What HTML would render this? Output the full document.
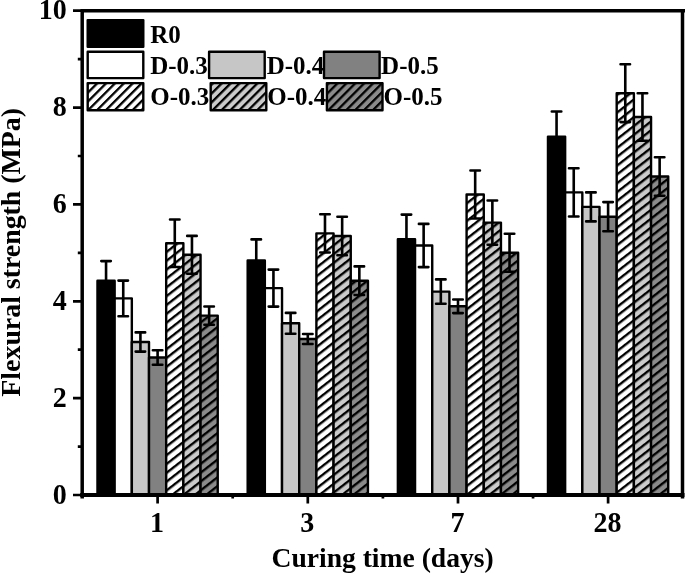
<!DOCTYPE html><html><head><meta charset="utf-8"><style>html,body{margin:0;padding:0;background:#fff;overflow:hidden}svg{display:block;filter:grayscale(1)}text{font-family:"Liberation Serif",serif;font-weight:bold;fill:#000}</style></head><body>
<svg width="685" height="574" viewBox="0 0 685 574">
<defs>
<pattern id="hb" patternUnits="userSpaceOnUse" width="40" height="6.9664" patternTransform="rotate(-37.9542) translate(0 0.3770)"><rect x="-5" y="0" width="50" height="2.4" fill="#000"/></pattern>
<pattern id="hl" patternUnits="userSpaceOnUse" width="40" height="6.2933" patternTransform="rotate(-45) translate(0 0.6178)"><rect x="-5" y="0" width="50" height="2.3" fill="#000"/></pattern>
</defs>
<rect x="97.47" y="280.8" width="17.18" height="214.2" fill="#000"/>
<rect x="97.47" y="280.8" width="17.18" height="214.2" fill="none" stroke="#000" stroke-width="2.4" stroke-linejoin="round"/>
<rect x="114.65" y="298.4" width="17.18" height="196.6" fill="#fff"/>
<rect x="114.65" y="298.4" width="17.18" height="196.6" fill="none" stroke="#000" stroke-width="2.4" stroke-linejoin="round"/>
<rect x="131.83" y="342" width="17.18" height="153" fill="#c6c6c6"/>
<rect x="131.83" y="342" width="17.18" height="153" fill="none" stroke="#000" stroke-width="2.4" stroke-linejoin="round"/>
<rect x="149.01" y="357.5" width="17.18" height="137.5" fill="#818181"/>
<rect x="149.01" y="357.5" width="17.18" height="137.5" fill="none" stroke="#000" stroke-width="2.4" stroke-linejoin="round"/>
<rect x="166.19" y="243.3" width="17.18" height="251.7" fill="#fff"/>
<rect x="166.19" y="243.3" width="17.18" height="251.7" fill="url(#hb)"/>
<rect x="166.19" y="243.3" width="17.18" height="251.7" fill="none" stroke="#000" stroke-width="2.4" stroke-linejoin="round"/>
<rect x="183.37" y="254.8" width="17.18" height="240.2" fill="#cbcbcb"/>
<rect x="183.37" y="254.8" width="17.18" height="240.2" fill="url(#hb)"/>
<rect x="183.37" y="254.8" width="17.18" height="240.2" fill="none" stroke="#000" stroke-width="2.4" stroke-linejoin="round"/>
<rect x="200.55" y="315.6" width="17.18" height="179.4" fill="#8b8b8b"/>
<rect x="200.55" y="315.6" width="17.18" height="179.4" fill="url(#hb)"/>
<rect x="200.55" y="315.6" width="17.18" height="179.4" fill="none" stroke="#000" stroke-width="2.4" stroke-linejoin="round"/>
<rect x="247.67" y="260.5" width="17.18" height="234.5" fill="#000"/>
<rect x="247.67" y="260.5" width="17.18" height="234.5" fill="none" stroke="#000" stroke-width="2.4" stroke-linejoin="round"/>
<rect x="264.85" y="288.1" width="17.18" height="206.9" fill="#fff"/>
<rect x="264.85" y="288.1" width="17.18" height="206.9" fill="none" stroke="#000" stroke-width="2.4" stroke-linejoin="round"/>
<rect x="282.03" y="323.3" width="17.18" height="171.7" fill="#c6c6c6"/>
<rect x="282.03" y="323.3" width="17.18" height="171.7" fill="none" stroke="#000" stroke-width="2.4" stroke-linejoin="round"/>
<rect x="299.21" y="339" width="17.18" height="156" fill="#818181"/>
<rect x="299.21" y="339" width="17.18" height="156" fill="none" stroke="#000" stroke-width="2.4" stroke-linejoin="round"/>
<rect x="316.39" y="233.4" width="17.18" height="261.6" fill="#fff"/>
<rect x="316.39" y="233.4" width="17.18" height="261.6" fill="url(#hb)"/>
<rect x="316.39" y="233.4" width="17.18" height="261.6" fill="none" stroke="#000" stroke-width="2.4" stroke-linejoin="round"/>
<rect x="333.57" y="236" width="17.18" height="259" fill="#cbcbcb"/>
<rect x="333.57" y="236" width="17.18" height="259" fill="url(#hb)"/>
<rect x="333.57" y="236" width="17.18" height="259" fill="none" stroke="#000" stroke-width="2.4" stroke-linejoin="round"/>
<rect x="350.75" y="280.7" width="17.18" height="214.3" fill="#8b8b8b"/>
<rect x="350.75" y="280.7" width="17.18" height="214.3" fill="url(#hb)"/>
<rect x="350.75" y="280.7" width="17.18" height="214.3" fill="none" stroke="#000" stroke-width="2.4" stroke-linejoin="round"/>
<rect x="397.87" y="239.2" width="17.18" height="255.8" fill="#000"/>
<rect x="397.87" y="239.2" width="17.18" height="255.8" fill="none" stroke="#000" stroke-width="2.4" stroke-linejoin="round"/>
<rect x="415.05" y="245.5" width="17.18" height="249.5" fill="#fff"/>
<rect x="415.05" y="245.5" width="17.18" height="249.5" fill="none" stroke="#000" stroke-width="2.4" stroke-linejoin="round"/>
<rect x="432.23" y="291.6" width="17.18" height="203.4" fill="#c6c6c6"/>
<rect x="432.23" y="291.6" width="17.18" height="203.4" fill="none" stroke="#000" stroke-width="2.4" stroke-linejoin="round"/>
<rect x="449.41" y="306.3" width="17.18" height="188.7" fill="#818181"/>
<rect x="449.41" y="306.3" width="17.18" height="188.7" fill="none" stroke="#000" stroke-width="2.4" stroke-linejoin="round"/>
<rect x="466.59" y="194.5" width="17.18" height="300.5" fill="#fff"/>
<rect x="466.59" y="194.5" width="17.18" height="300.5" fill="url(#hb)"/>
<rect x="466.59" y="194.5" width="17.18" height="300.5" fill="none" stroke="#000" stroke-width="2.4" stroke-linejoin="round"/>
<rect x="483.77" y="222.6" width="17.18" height="272.4" fill="#cbcbcb"/>
<rect x="483.77" y="222.6" width="17.18" height="272.4" fill="url(#hb)"/>
<rect x="483.77" y="222.6" width="17.18" height="272.4" fill="none" stroke="#000" stroke-width="2.4" stroke-linejoin="round"/>
<rect x="500.95" y="252.8" width="17.18" height="242.2" fill="#8b8b8b"/>
<rect x="500.95" y="252.8" width="17.18" height="242.2" fill="url(#hb)"/>
<rect x="500.95" y="252.8" width="17.18" height="242.2" fill="none" stroke="#000" stroke-width="2.4" stroke-linejoin="round"/>
<rect x="547.97" y="136.6" width="17.18" height="358.4" fill="#000"/>
<rect x="547.97" y="136.6" width="17.18" height="358.4" fill="none" stroke="#000" stroke-width="2.4" stroke-linejoin="round"/>
<rect x="565.15" y="192.4" width="17.18" height="302.6" fill="#fff"/>
<rect x="565.15" y="192.4" width="17.18" height="302.6" fill="none" stroke="#000" stroke-width="2.4" stroke-linejoin="round"/>
<rect x="582.33" y="206.9" width="17.18" height="288.1" fill="#c6c6c6"/>
<rect x="582.33" y="206.9" width="17.18" height="288.1" fill="none" stroke="#000" stroke-width="2.4" stroke-linejoin="round"/>
<rect x="599.51" y="216.7" width="17.18" height="278.3" fill="#818181"/>
<rect x="599.51" y="216.7" width="17.18" height="278.3" fill="none" stroke="#000" stroke-width="2.4" stroke-linejoin="round"/>
<rect x="616.69" y="93.2" width="17.18" height="401.8" fill="#fff"/>
<rect x="616.69" y="93.2" width="17.18" height="401.8" fill="url(#hb)"/>
<rect x="616.69" y="93.2" width="17.18" height="401.8" fill="none" stroke="#000" stroke-width="2.4" stroke-linejoin="round"/>
<rect x="633.87" y="117" width="17.18" height="378" fill="#cbcbcb"/>
<rect x="633.87" y="117" width="17.18" height="378" fill="url(#hb)"/>
<rect x="633.87" y="117" width="17.18" height="378" fill="none" stroke="#000" stroke-width="2.4" stroke-linejoin="round"/>
<rect x="651.05" y="176.5" width="17.18" height="318.5" fill="#8b8b8b"/>
<rect x="651.05" y="176.5" width="17.18" height="318.5" fill="url(#hb)"/>
<rect x="651.05" y="176.5" width="17.18" height="318.5" fill="none" stroke="#000" stroke-width="2.4" stroke-linejoin="round"/>
<path d="M106.06 261.1V300.5M101.31 261.1H110.81M101.31 300.5H110.81" stroke="#000" stroke-width="2.6" stroke-linecap="round" fill="none"/>
<path d="M123.24 280.6V316.2M118.49 280.6H127.99M118.49 316.2H127.99" stroke="#000" stroke-width="2.6" stroke-linecap="round" fill="none"/>
<path d="M140.42 332.4V351.6M135.67 332.4H145.17M135.67 351.6H145.17" stroke="#000" stroke-width="2.6" stroke-linecap="round" fill="none"/>
<path d="M157.6 350.3V364.7M152.85 350.3H162.35M152.85 364.7H162.35" stroke="#000" stroke-width="2.6" stroke-linecap="round" fill="none"/>
<path d="M174.78 219.55V267.05M170.03 219.55H179.53M170.03 267.05H179.53" stroke="#000" stroke-width="2.6" stroke-linecap="round" fill="none"/>
<path d="M191.96 235.9V273.7M187.21 235.9H196.71M187.21 273.7H196.71" stroke="#000" stroke-width="2.6" stroke-linecap="round" fill="none"/>
<path d="M209.14 306.5V324.7M204.39 306.5H213.89M204.39 324.7H213.89" stroke="#000" stroke-width="2.6" stroke-linecap="round" fill="none"/>
<path d="M256.26 239.4V281.6M251.51 239.4H261.01M251.51 281.6H261.01" stroke="#000" stroke-width="2.6" stroke-linecap="round" fill="none"/>
<path d="M273.44 269.6V306.6M268.69 269.6H278.19M268.69 306.6H278.19" stroke="#000" stroke-width="2.6" stroke-linecap="round" fill="none"/>
<path d="M290.62 312.9V333.7M285.87 312.9H295.37M285.87 333.7H295.37" stroke="#000" stroke-width="2.6" stroke-linecap="round" fill="none"/>
<path d="M307.8 334V344M303.05 334H312.55M303.05 344H312.55" stroke="#000" stroke-width="2.6" stroke-linecap="round" fill="none"/>
<path d="M324.98 214.3V252.5M320.23 214.3H329.73M320.23 252.5H329.73" stroke="#000" stroke-width="2.6" stroke-linecap="round" fill="none"/>
<path d="M342.16 216.7V255.3M337.41 216.7H346.91M337.41 255.3H346.91" stroke="#000" stroke-width="2.6" stroke-linecap="round" fill="none"/>
<path d="M359.34 266.4V295M354.59 266.4H364.09M354.59 295H364.09" stroke="#000" stroke-width="2.6" stroke-linecap="round" fill="none"/>
<path d="M406.46 214.6V263.8M401.71 214.6H411.21M401.71 263.8H411.21" stroke="#000" stroke-width="2.6" stroke-linecap="round" fill="none"/>
<path d="M423.64 223.9V267.1M418.89 223.9H428.39M418.89 267.1H428.39" stroke="#000" stroke-width="2.6" stroke-linecap="round" fill="none"/>
<path d="M440.82 279.4V303.8M436.07 279.4H445.57M436.07 303.8H445.57" stroke="#000" stroke-width="2.6" stroke-linecap="round" fill="none"/>
<path d="M458 299.5V313.1M453.25 299.5H462.75M453.25 313.1H462.75" stroke="#000" stroke-width="2.6" stroke-linecap="round" fill="none"/>
<path d="M475.18 170.5V218.5M470.43 170.5H479.93M470.43 218.5H479.93" stroke="#000" stroke-width="2.6" stroke-linecap="round" fill="none"/>
<path d="M492.36 200.5V244.7M487.61 200.5H497.11M487.61 244.7H497.11" stroke="#000" stroke-width="2.6" stroke-linecap="round" fill="none"/>
<path d="M509.54 233.8V271.8M504.79 233.8H514.29M504.79 271.8H514.29" stroke="#000" stroke-width="2.6" stroke-linecap="round" fill="none"/>
<path d="M556.56 111.5V161.7M551.81 111.5H561.31M551.81 161.7H561.31" stroke="#000" stroke-width="2.6" stroke-linecap="round" fill="none"/>
<path d="M573.74 168.3V216.5M568.99 168.3H578.49M568.99 216.5H578.49" stroke="#000" stroke-width="2.6" stroke-linecap="round" fill="none"/>
<path d="M590.92 192.4V221.4M586.17 192.4H595.67M586.17 221.4H595.67" stroke="#000" stroke-width="2.6" stroke-linecap="round" fill="none"/>
<path d="M608.1 202.1V231.3M603.35 202.1H612.85M603.35 231.3H612.85" stroke="#000" stroke-width="2.6" stroke-linecap="round" fill="none"/>
<path d="M625.28 64.3V122.1M620.53 64.3H630.03M620.53 122.1H630.03" stroke="#000" stroke-width="2.6" stroke-linecap="round" fill="none"/>
<path d="M642.46 93.2V140.8M637.71 93.2H647.21M637.71 140.8H647.21" stroke="#000" stroke-width="2.6" stroke-linecap="round" fill="none"/>
<path d="M659.64 157.2V195.8M654.89 157.2H664.39M654.89 195.8H664.39" stroke="#000" stroke-width="2.6" stroke-linecap="round" fill="none"/>
<path d="M80.45 10.7H685M682.5 10.7V498.5M82.2 10.7V498.5" stroke="#000" stroke-width="3.5" fill="none"/>
<path d="M82.2 495.1H682.5" stroke="#000" stroke-width="4.0" stroke-linecap="square" fill="none"/>
<path d="M82.2 495H73M82.2 446.57H77.8M82.2 398.14H73M82.2 349.71H77.8M82.2 301.28H73M82.2 252.85H77.8M82.2 204.42H73M82.2 155.99H77.8M82.2 107.56H73M82.2 59.13H77.8M82.2 10.7H73" stroke="#000" stroke-width="2.7" fill="none"/>
<path d="M157.6 495V503.5M307.8 495V503.5M458 495V503.5M608.1 495V503.5M232.7 495V498.5M382.9 495V498.5M533.05 495V498.5" stroke="#000" stroke-width="2.7" fill="none"/>
<text transform="translate(66.7 503.6) scale(1 1.08)" font-size="28" text-anchor="end">0</text>
<text transform="translate(66.7 406.74) scale(1 1.08)" font-size="28" text-anchor="end">2</text>
<text transform="translate(66.7 309.88) scale(1 1.08)" font-size="28" text-anchor="end">4</text>
<text transform="translate(66.7 213.02) scale(1 1.08)" font-size="28" text-anchor="end">6</text>
<text transform="translate(66.7 116.16) scale(1 1.08)" font-size="28" text-anchor="end">8</text>
<text transform="translate(66.7 19.3) scale(1 1.08)" font-size="28" text-anchor="end">10</text>
<text transform="translate(157 531.7) scale(1 1.07)" font-size="28" text-anchor="middle">1</text>
<text transform="translate(307.2 531.7) scale(1 1.07)" font-size="28" text-anchor="middle">3</text>
<text transform="translate(457.4 531.7) scale(1 1.07)" font-size="28" text-anchor="middle">7</text>
<text transform="translate(607.5 531.7) scale(1 1.07)" font-size="28" text-anchor="middle">28</text>
<text x="382.6" y="566.5" font-size="27.6" text-anchor="middle">Curing time (days)</text>
<text transform="translate(19.5 252.3) rotate(-90) scale(1.059 1)" x="0" y="0" font-size="26.3" text-anchor="middle">Flexural strength (MPa)</text>
<rect x="87.7" y="20.1" width="55.6" height="26.7" fill="#000"/>
<rect x="87.7" y="20.1" width="55.6" height="26.7" fill="none" stroke="#000" stroke-width="2.4" stroke-linejoin="round"/>
<text transform="translate(150.2 42.6) scale(1 1.02)" font-size="25">R0</text>
<rect x="87.7" y="51.8" width="55.6" height="26.3" fill="#fff"/>
<rect x="87.7" y="51.8" width="55.6" height="26.3" fill="none" stroke="#000" stroke-width="2.4" stroke-linejoin="round"/>
<text transform="translate(150.2 73.7) scale(1 1.02)" font-size="25">D-0.3</text>
<rect x="209.1" y="51.8" width="55.6" height="26.3" fill="#c6c6c6"/>
<rect x="209.1" y="51.8" width="55.6" height="26.3" fill="none" stroke="#000" stroke-width="2.4" stroke-linejoin="round"/>
<text transform="translate(266.7 73.7) scale(1 1.02)" font-size="25">D-0.4</text>
<rect x="324" y="51.8" width="55.6" height="26.3" fill="#818181"/>
<rect x="324" y="51.8" width="55.6" height="26.3" fill="none" stroke="#000" stroke-width="2.4" stroke-linejoin="round"/>
<text transform="translate(381.1 73.7) scale(1 1.02)" font-size="25">D-0.5</text>
<rect x="87.7" y="83.1" width="55.6" height="27.1" fill="#fff"/>
<rect x="87.7" y="83.1" width="55.6" height="27.1" fill="url(#hl)"/>
<rect x="87.7" y="83.1" width="55.6" height="27.1" fill="none" stroke="#000" stroke-width="2.4" stroke-linejoin="round"/>
<text transform="translate(150.2 104.6) scale(1 1.02)" font-size="25">O-0.3</text>
<rect x="210.7" y="83.1" width="55.6" height="27.1" fill="#cbcbcb"/>
<rect x="210.7" y="83.1" width="55.6" height="27.1" fill="url(#hl)"/>
<rect x="210.7" y="83.1" width="55.6" height="27.1" fill="none" stroke="#000" stroke-width="2.4" stroke-linejoin="round"/>
<text transform="translate(267.3 104.6) scale(1 1.02)" font-size="25">O-0.4</text>
<rect x="326.9" y="83.1" width="55.6" height="27.1" fill="#8b8b8b"/>
<rect x="326.9" y="83.1" width="55.6" height="27.1" fill="url(#hl)"/>
<rect x="326.9" y="83.1" width="55.6" height="27.1" fill="none" stroke="#000" stroke-width="2.4" stroke-linejoin="round"/>
<text transform="translate(383.5 104.6) scale(1 1.02)" font-size="25">O-0.5</text>
</svg></body></html>
